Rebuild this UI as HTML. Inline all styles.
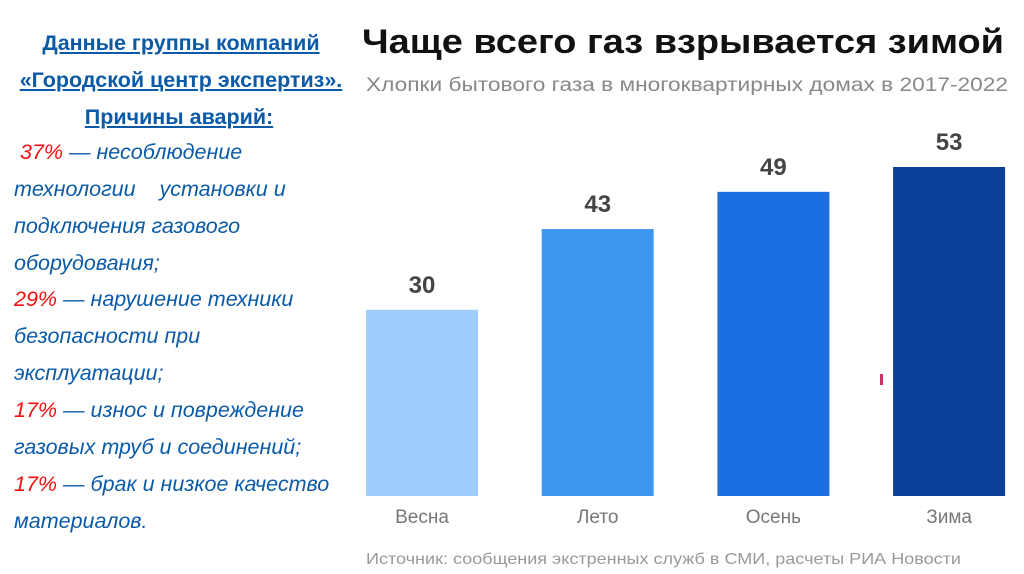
<!DOCTYPE html>
<html><head><meta charset="utf-8"><style>
body{margin:0;width:1024px;height:574px;background:#fff;position:relative;overflow:hidden;font-family:"Liberation Sans","DejaVu Sans",sans-serif}
.h{position:absolute;left:0;width:362px;text-align:center;color:#0b5aa8;font-weight:bold;font-size:21.5px;text-decoration:underline}
.t{position:absolute;left:14px;color:#0b5aa8;font-style:italic;font-size:21.5px;white-space:pre}
.r{color:#ee1111}
</style></head><body>
<div class="h" style="top:31px">Данные группы компаний</div>
<div class="h" style="top:68px">«Городской центр экспертиз».</div>
<div class="h" style="top:105px;left:-2px">Причины аварий:</div>
<div>
<div class="t" style="top:140px"> <span class="r">37%</span> — несоблюдение</div>
<div class="t" style="top:177px">технологии    установки и</div>
<div class="t" style="top:214px">подключения газового</div>
<div class="t" style="top:251px">оборудования;</div>
<div class="t" style="top:287px"><span class="r">29%</span> — нарушение техники</div>
<div class="t" style="top:324px">безопасности при</div>
<div class="t" style="top:361px">эксплуатации;</div>
<div class="t" style="top:398px"><span class="r">17%</span> — износ и повреждение</div>
<div class="t" style="top:435px">газовых труб и соединений;</div>
<div class="t" style="top:472px"><span class="r">17%</span> — брак и низкое качество</div>
<div class="t" style="top:509px">материалов.</div>
</div>
<svg id="chart" width="1024" height="574" style="position:absolute;left:0;top:0">
<text x="362" y="53" font-size="34" font-weight="bold" fill="#111" font-family="Liberation Sans, DejaVu Sans, sans-serif" textLength="642" lengthAdjust="spacingAndGlyphs">Чаще всего газ взрывается зимой</text>
<text x="366" y="91" font-size="19" fill="#888" font-family="Liberation Sans, DejaVu Sans, sans-serif" textLength="642" lengthAdjust="spacingAndGlyphs">Хлопки бытового газа в многоквартирных домах в 2017-2022</text>
<text x="366" y="564" font-size="16" fill="#999" font-family="Liberation Sans, DejaVu Sans, sans-serif" textLength="595" lengthAdjust="spacingAndGlyphs">Источник: сообщения экстренных служб в СМИ, расчеты РИА Новости</text>
<rect x="880" y="374" width="3" height="11" fill="#d0306a"/>
<g id="bars"></g>
</svg>
<script>
const categories=["Весна","Лето","Осень","Зима"];
const values=[30,43,49,53];
const colors=["#9fcdfc","#3f96ef","#1b6fe0","#0b3f98"];
const svg=document.getElementById('bars');
const NS="http://www.w3.org/2000/svg";
const y0=496, k=329/53;
const y=v=>y0-v*k;
const x=i=>366+i*175.7;
const bw=112;
categories.forEach((c,i)=>{
 const r=document.createElementNS(NS,'rect');
 
 
 r.setAttribute('x',x(i));r.setAttribute('y',y(values[i]));
 r.setAttribute('width',bw);r.setAttribute('height',y0-y(values[i]));
 r.setAttribute('fill',colors[i]);svg.appendChild(r);
 const v=document.createElementNS(NS,'text');
 
 
 v.setAttribute('x',x(i)+bw/2);v.setAttribute('y',y(values[i])-17);
 v.setAttribute('text-anchor','middle');v.setAttribute('font-size','24');v.setAttribute('font-weight','bold');
 v.setAttribute('fill','#444');v.setAttribute('font-family','Liberation Sans, sans-serif');
 v.textContent=values[i];svg.appendChild(v);
 const l=document.createElementNS(NS,'text');
 
 
 l.setAttribute('x',x(i)+bw/2);l.setAttribute('y',523);
 l.setAttribute('text-anchor','middle');l.setAttribute('font-size','19');
 l.setAttribute('fill','#777');l.setAttribute('font-family','Liberation Sans, sans-serif');
 l.textContent=c;svg.appendChild(l);
});
</script>
</body></html>
